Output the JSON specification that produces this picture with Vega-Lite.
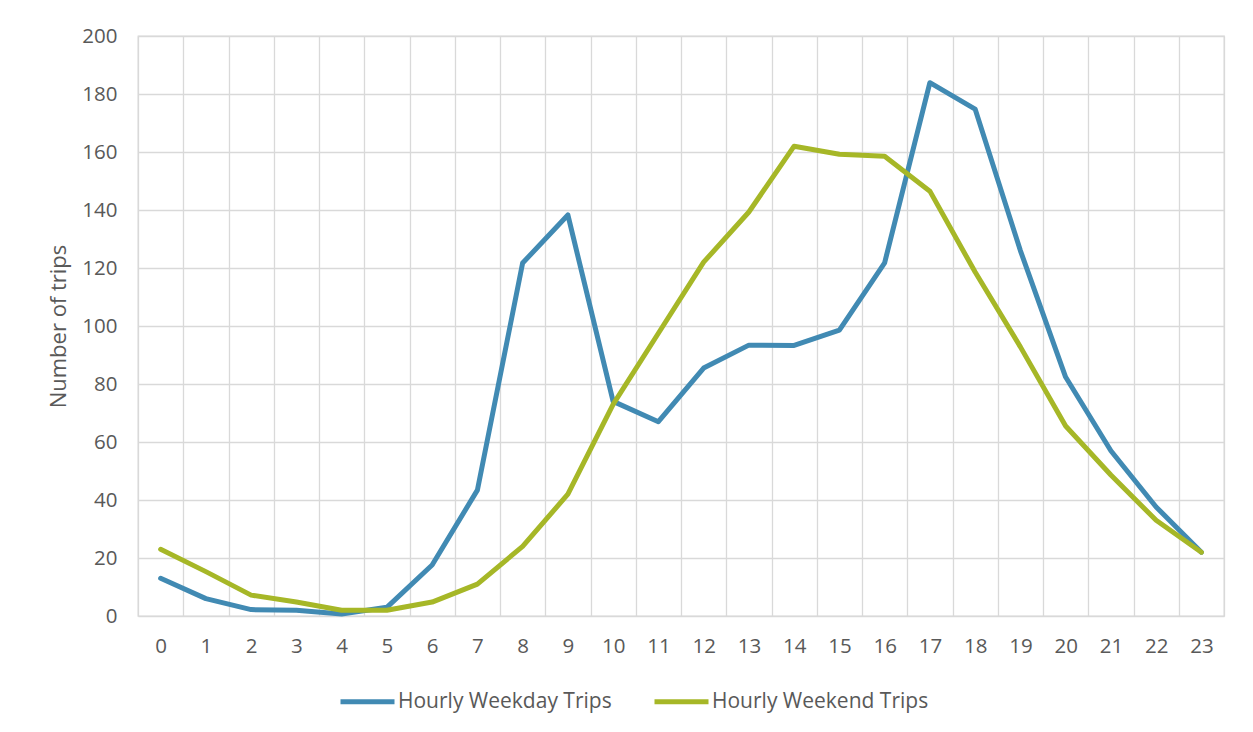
{
  "$schema": "https://vega.github.io/schema/vega-lite/v6.json",
  "autosize": {"type": "none"},
  "width": 1086,
  "height": 580,
  "padding": {"left": 138, "top": 36, "right": 29, "bottom": 116},
  "background": "white",
  "config": {
    "font": "Open Sans",
    "view": {"stroke": "#d9d9d9", "strokeWidth": 1.3},
    "axis": {"labelFont": "Open Sans", "titleFont": "Open Sans", "labelColor": "#595959", "titleColor": "#595959", "labelFontSize": 20.5, "titleFontSize": 22, "titleFontWeight": "normal", "gridColor": "#d9d9d9", "gridWidth": 1.3}
  },
  "data": {"values": [
    {"hour": 0, "series": "Hourly Weekday Trips", "trips": 13},
    {"hour": 1, "series": "Hourly Weekday Trips", "trips": 6},
    {"hour": 2, "series": "Hourly Weekday Trips", "trips": 2.2},
    {"hour": 3, "series": "Hourly Weekday Trips", "trips": 2},
    {"hour": 4, "series": "Hourly Weekday Trips", "trips": 0.7},
    {"hour": 5, "series": "Hourly Weekday Trips", "trips": 3},
    {"hour": 6, "series": "Hourly Weekday Trips", "trips": 17.6},
    {"hour": 7, "series": "Hourly Weekday Trips", "trips": 43.4},
    {"hour": 8, "series": "Hourly Weekday Trips", "trips": 121.7},
    {"hour": 9, "series": "Hourly Weekday Trips", "trips": 138.3},
    {"hour": 10, "series": "Hourly Weekday Trips", "trips": 74},
    {"hour": 11, "series": "Hourly Weekday Trips", "trips": 67},
    {"hour": 12, "series": "Hourly Weekday Trips", "trips": 85.5},
    {"hour": 13, "series": "Hourly Weekday Trips", "trips": 93.4},
    {"hour": 14, "series": "Hourly Weekday Trips", "trips": 93.3},
    {"hour": 15, "series": "Hourly Weekday Trips", "trips": 98.6},
    {"hour": 16, "series": "Hourly Weekday Trips", "trips": 121.8},
    {"hour": 17, "series": "Hourly Weekday Trips", "trips": 183.9},
    {"hour": 18, "series": "Hourly Weekday Trips", "trips": 174.8},
    {"hour": 19, "series": "Hourly Weekday Trips", "trips": 126},
    {"hour": 20, "series": "Hourly Weekday Trips", "trips": 82.4},
    {"hour": 21, "series": "Hourly Weekday Trips", "trips": 57},
    {"hour": 22, "series": "Hourly Weekday Trips", "trips": 37.6},
    {"hour": 23, "series": "Hourly Weekday Trips", "trips": 22},
    {"hour": 0, "series": "Hourly Weekend Trips", "trips": 23},
    {"hour": 1, "series": "Hourly Weekend Trips", "trips": 15.3},
    {"hour": 2, "series": "Hourly Weekend Trips", "trips": 7.2},
    {"hour": 3, "series": "Hourly Weekend Trips", "trips": 4.8},
    {"hour": 4, "series": "Hourly Weekend Trips", "trips": 2},
    {"hour": 5, "series": "Hourly Weekend Trips", "trips": 2},
    {"hour": 6, "series": "Hourly Weekend Trips", "trips": 4.8},
    {"hour": 7, "series": "Hourly Weekend Trips", "trips": 11},
    {"hour": 8, "series": "Hourly Weekend Trips", "trips": 24},
    {"hour": 9, "series": "Hourly Weekend Trips", "trips": 42},
    {"hour": 10, "series": "Hourly Weekend Trips", "trips": 73},
    {"hour": 11, "series": "Hourly Weekend Trips", "trips": 97.5},
    {"hour": 12, "series": "Hourly Weekend Trips", "trips": 122},
    {"hour": 13, "series": "Hourly Weekend Trips", "trips": 139.3},
    {"hour": 14, "series": "Hourly Weekend Trips", "trips": 162},
    {"hour": 15, "series": "Hourly Weekend Trips", "trips": 159.2},
    {"hour": 16, "series": "Hourly Weekend Trips", "trips": 158.5},
    {"hour": 17, "series": "Hourly Weekend Trips", "trips": 146.5},
    {"hour": 18, "series": "Hourly Weekend Trips", "trips": 118.6},
    {"hour": 19, "series": "Hourly Weekend Trips", "trips": 92.8},
    {"hour": 20, "series": "Hourly Weekend Trips", "trips": 65.5},
    {"hour": 21, "series": "Hourly Weekend Trips", "trips": 48.6},
    {"hour": 22, "series": "Hourly Weekend Trips", "trips": 33},
    {"hour": 23, "series": "Hourly Weekend Trips", "trips": 22}
  ]},
  "mark": {"type": "line", "strokeWidth": 5, "strokeJoin": "round", "strokeCap": "round"},
  "encoding": {
    "x": {
      "field": "hour", "type": "ordinal",
      "scale": {"type": "band", "paddingInner": 0, "paddingOuter": 0},
      "axis": {"title": null, "labelAngle": 0, "ticks": false, "domain": false, "grid": true, "tickBand": "extent", "labelPadding": 20}
    },
    "y": {
      "field": "trips", "type": "quantitative",
      "scale": {"domain": [0, 200], "nice": false},
      "axis": {"title": "Number of trips", "values": [0, 20, 40, 60, 80, 100, 120, 140, 160, 180, 200], "ticks": false, "domain": false, "labelPadding": 21, "titlePadding": 11}
    },
    "color": {
      "field": "series", "type": "nominal",
      "scale": {"domain": ["Hourly Weekday Trips", "Hourly Weekend Trips"], "range": ["#418AB3", "#A6B727"]},
      "legend": {"title": null, "orient": "none", "direction": "horizontal", "legendX": 200, "legendY": 636, "padding": 0, "symbolType": "stroke", "symbolSize": 2916, "symbolStrokeWidth": 5, "labelFontSize": 21, "labelColor": "#595959", "labelFont": "Open Sans", "labelOffset": 1, "columnPadding": 32, "labelLimit": 400}
    }
  }
}
